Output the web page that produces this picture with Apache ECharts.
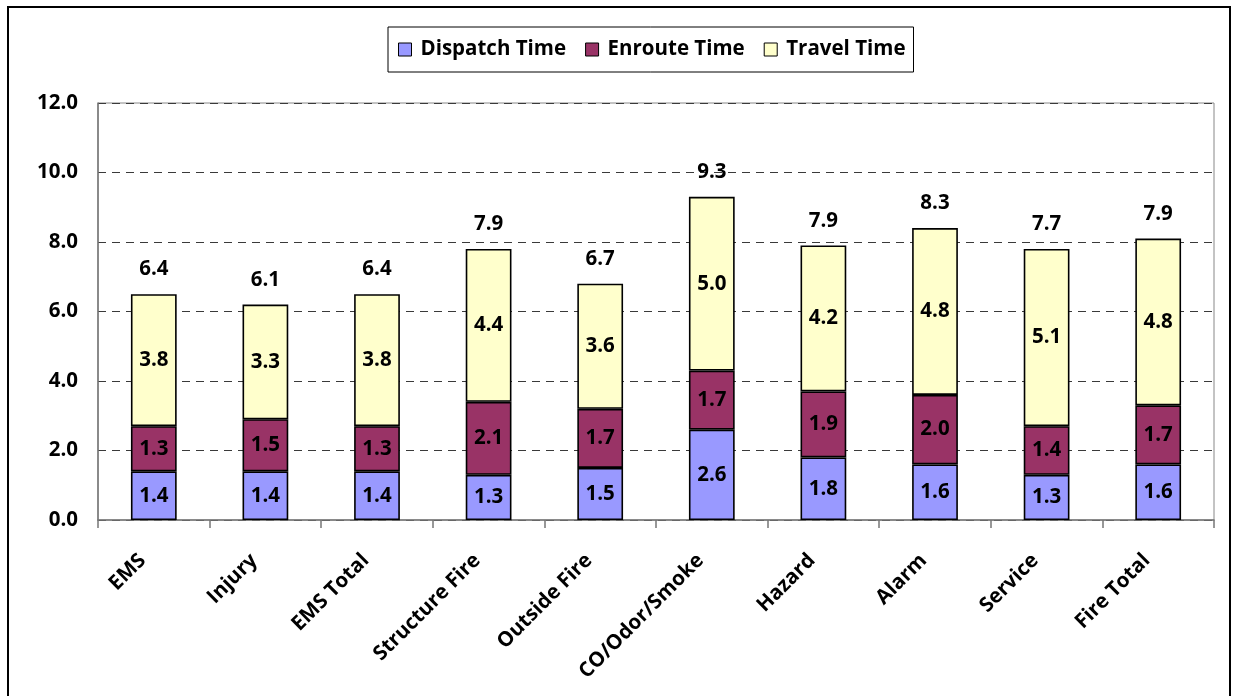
<!DOCTYPE html>
<html>
<head>
<meta charset="utf-8">
<script src="https://cdn.jsdelivr.net/npm/echarts@6/dist/echarts.min.js"></script>
<style>
  html, body { margin: 0; padding: 0; background: #fff; }
  #chart { width: 1236px; height: 696px; }
</style>
</head>
<body>
<div id="chart"></div>
<script>
// Response time components by incident type (minutes)
const categories = ['EMS', 'Injury', 'EMS Total', 'Structure Fire', 'Outside Fire',
  'CO/Odor/Smoke', 'Hazard', 'Alarm', 'Service', 'Fire Total'];
const dispatchTime = [1.4, 1.4, 1.4, 1.3, 1.5, 2.6, 1.8, 1.6, 1.3, 1.6];
const enrouteTime  = [1.3, 1.5, 1.3, 2.1, 1.7, 1.7, 1.9, 2.0, 1.4, 1.7];
const travelTime   = [3.8, 3.3, 3.8, 4.4, 3.6, 5.0, 4.2, 4.8, 5.1, 4.8];
const totalTime    = [6.4, 6.1, 6.4, 7.9, 6.7, 9.3, 7.9, 8.3, 7.7, 7.9];
const yTicks = [0, 2, 4, 6, 8, 10, 12];

const FONT = 'Open Sans';
const FS = 20.5;
const chart = echarts.init(document.getElementById('chart'), null, { renderer: 'canvas' });

const segLabel = {
  show: true,
  position: 'inside',
  color: '#000',
  fontFamily: FONT,
  fontWeight: 'bold',
  fontSize: FS,
  formatter: p => p.value.toFixed(1)
};
const barItem = color => ({ color: color, borderColor: '#000', borderWidth: 1.6 });

chart.setOption({
  animation: false,
  textStyle: { fontFamily: FONT },
  graphic: [{
    type: 'rect',
    shape: { x: 8, y: 7, width: 1222, height: 700 },
    style: { fill: 'none', stroke: '#000', lineWidth: 2 },
    silent: true
  }],
  legend: {
    left: 388,
    top: 27,
    padding: [12, 8, 12, 10],
    itemGap: 19,
    itemWidth: 13,
    itemHeight: 13,
    borderColor: '#000',
    borderWidth: 1,
    icon: 'rect',
    itemStyle: { borderColor: '#000', borderWidth: 1 },
    textStyle: { fontFamily: FONT, fontWeight: 'bold', fontSize: FS, color: '#000', padding: [0, 0, 0, 4] },
    data: ['Dispatch Time', 'Enroute Time', 'Travel Time']
  },
  grid: {
    left: 98, right: 22, top: 103, bottom: 176,
    show: true, borderColor: '#888', borderWidth: 1, backgroundColor: '#fff'
  },
  xAxis: {
    type: 'category',
    data: categories,
    axisLine: { lineStyle: { color: '#777', width: 1.5 } },
    axisTick: { show: true, length: 8, lineStyle: { color: '#777', width: 1.5 } },
    axisLabel: {
      rotate: 45,
      margin: 26,
      padding: [0, 16, 0, 0],
      color: '#000',
      fontFamily: FONT,
      fontWeight: 'bold',
      fontSize: FS,
      interval: 0
    }
  },
  yAxis: {
    type: 'value',
    min: yTicks[0],
    max: yTicks[yTicks.length - 1],
    interval: 2,
    axisLine: { show: true, lineStyle: { color: '#777', width: 1.5 } },
    axisTick: { show: false },
    axisLabel: {
      margin: 20,
      color: '#000',
      fontFamily: FONT,
      fontWeight: 'bold',
      fontSize: FS,
      formatter: v => v.toFixed(1)
    },
    splitLine: { show: true, lineStyle: { color: '#3a3a3a', type: [8, 6], width: 1 } }
  },
  series: [
    {
      name: 'Dispatch Time', type: 'bar', stack: 't', barWidth: '41%',
      data: dispatchTime, itemStyle: barItem('#9999FF'), label: segLabel
    },
    {
      name: 'Enroute Time', type: 'bar', stack: 't',
      data: enrouteTime, itemStyle: barItem('#993366'), label: segLabel
    },
    {
      name: 'Travel Time', type: 'bar', stack: 't',
      data: travelTime, itemStyle: barItem('#FFFFCC'), label: segLabel
    },
    {
      // Totals printed above each stacked bar
      name: 'Total', type: 'bar', stack: 't',
      data: travelTime.map(() => 0),
      itemStyle: { color: 'transparent' },
      label: {
        show: true,
        position: 'top',
        distance: 14,
        color: '#000',
        fontFamily: FONT,
        fontWeight: 'bold',
        fontSize: FS,
        formatter: p => totalTime[p.dataIndex].toFixed(1)
      },
      tooltip: { show: false }
    }
  ]
});
</script>
</body>
</html>
